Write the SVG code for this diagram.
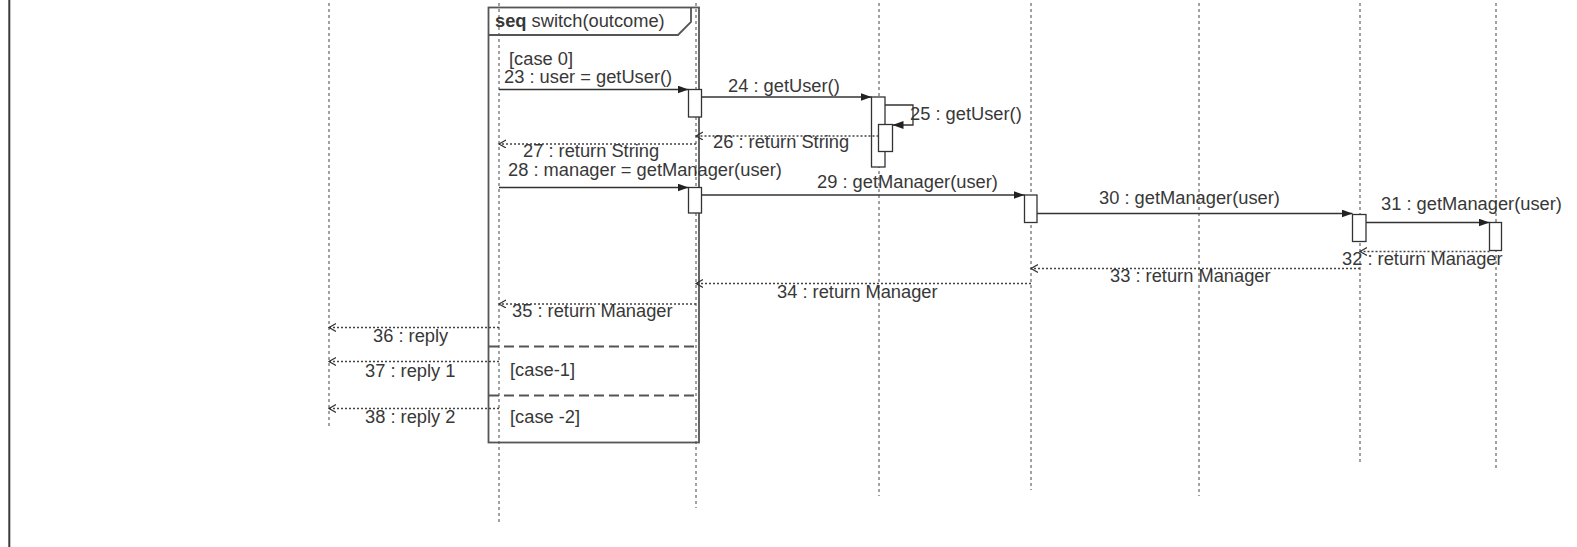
<svg xmlns="http://www.w3.org/2000/svg" width="1577" height="547" viewBox="0 0 1577 547">
<style>
text{font-family:"Liberation Sans",Arial,sans-serif;font-size:18.3px;fill:#383838}
.ll{stroke:#444;stroke-width:1;stroke-dasharray:3,3;fill:none}
.act{fill:#fff;stroke:#333;stroke-width:1.3}
.msg{stroke:#333;stroke-width:1.3;fill:none;marker-end:url(#fa)}
.ret{stroke:#444;stroke-width:1.3;stroke-dasharray:2,2;fill:none;marker-end:url(#oa)}
.frm{fill:none;stroke:#555;stroke-width:1.8}
.sep{stroke:#555;stroke-width:1.8;stroke-dasharray:10,5;fill:none}
</style>
<defs>
<marker id="fa" markerUnits="userSpaceOnUse" markerWidth="12" markerHeight="10" refX="11" refY="4" orient="auto"><path d="M0,0 L11,4 L0,8 z" fill="#222"/></marker>
<marker id="oa" markerUnits="userSpaceOnUse" markerWidth="10" markerHeight="10" refX="7" refY="4" orient="auto"><path d="M0,0 L7,4 L0,8" fill="none" stroke="#333" stroke-width="1.2"/></marker>
</defs>
<rect width="1577" height="547" fill="#fff"/>
<line x1="9.3" y1="0" x2="9.3" y2="547" stroke="#3a3a3a" stroke-width="2"/>
<g id="lifelines">
<g id="ll0"><line class="ll" x1="329" y1="3" x2="329" y2="426"/></g>
<g id="ll1"><line class="ll" x1="499" y1="3" x2="499" y2="525"/></g>
<g id="ll2"><line class="ll" x1="696" y1="3" x2="696" y2="508"/></g>
<g id="ll3"><line class="ll" x1="879" y1="3" x2="879" y2="496"/></g>
<g id="ll4"><line class="ll" x1="1031" y1="3" x2="1031" y2="490"/></g>
<g id="ll5"><line class="ll" x1="1199" y1="3" x2="1199" y2="496"/></g>
<g id="ll6"><line class="ll" x1="1360" y1="3" x2="1360" y2="462"/></g>
<g id="ll7"><line class="ll" x1="1496" y1="3" x2="1496" y2="471"/></g>
</g>
<g id="frame">
<rect class="frm" x="488.5" y="7.5" width="210.5" height="435"/>
<polyline class="frm" points="488.5,35 678,35 691,22 691,7.5"/>
<line class="sep" x1="489" y1="346.5" x2="699" y2="346.5"/>
<line class="sep" x1="489" y1="395.5" x2="699" y2="395.5"/>
<text x="495" y="26.5"><tspan font-weight="bold">seq</tspan> switch(outcome)</text>
<text x="509" y="64.5">[case 0]</text>
<text x="510" y="376">[case-1]</text>
<text x="510" y="423">[case -2]</text>
</g>
<g id="activations">
<g id="a1"><rect class="act" x="688.5" y="89.5" width="13" height="27.5"/></g>
<g id="a2"><rect class="act" x="871.5" y="97" width="13.5" height="70"/></g>
<g id="a3"><rect class="act" x="878.5" y="124.5" width="14" height="27"/></g>
<g id="a4"><rect class="act" x="688.5" y="187.5" width="13" height="25.5"/></g>
<g id="a5"><rect class="act" x="1024.5" y="195" width="12.5" height="27.5"/></g>
<g id="a6"><rect class="act" x="1352.5" y="214.5" width="13.5" height="27"/></g>
<g id="a7"><rect class="act" x="1489.5" y="222.5" width="12" height="28"/></g>
</g>
<g id="connectors">
<line class="msg" x1="499" y1="89.5" x2="688.5" y2="89.5"/>
<line class="msg" x1="701.5" y1="97" x2="871.5" y2="97"/>
<path class="msg" d="M885,105 H913 V125 H892.5"/>
<line class="ret" x1="878.5" y1="136" x2="696" y2="136"/>
<line class="ret" x1="696" y1="144" x2="499" y2="144"/>
<line class="msg" x1="499" y1="187.5" x2="688.5" y2="187.5"/>
<line class="msg" x1="701.5" y1="195" x2="1024.5" y2="195"/>
<line class="msg" x1="1037" y1="213.5" x2="1352.5" y2="213.5"/>
<line class="msg" x1="1366" y1="222.5" x2="1489.5" y2="222.5"/>
<line class="ret" x1="1489.5" y1="251.5" x2="1360" y2="251.5"/>
<line class="ret" x1="1360" y1="268.5" x2="1031" y2="268.5"/>
<line class="ret" x1="1031" y1="283.5" x2="696" y2="283.5"/>
<line class="ret" x1="696" y1="304" x2="499" y2="304"/>
<line class="ret" x1="499" y1="327.5" x2="329" y2="327.5"/>
<line class="ret" x1="499" y1="361.5" x2="329" y2="361.5"/>
<line class="ret" x1="499" y1="408.5" x2="329" y2="408.5"/>
</g>
<g id="labels">
<text x="504" y="83">23 : user = getUser()</text>
<text x="728" y="91.5">24 : getUser()</text>
<text x="910" y="120">25 : getUser()</text>
<text x="713" y="148">26 : return String</text>
<text x="523" y="157">27 : return String</text>
<text x="508" y="175.5">28 : manager = getManager(user)</text>
<text x="817" y="188">29 : getManager(user)</text>
<text x="1099" y="203.5">30 : getManager(user)</text>
<text x="1381" y="210">31 : getManager(user)</text>
<text x="1342" y="265">32 : return Manager</text>
<text x="1110" y="281.5">33 : return Manager</text>
<text x="777" y="298">34 : return Manager</text>
<text x="512" y="316.5">35 : return Manager</text>
<text x="373" y="341.5">36 : reply</text>
<text x="365" y="376.5">37 : reply 1</text>
<text x="365" y="423">38 : reply 2</text>
</g>
</svg>
